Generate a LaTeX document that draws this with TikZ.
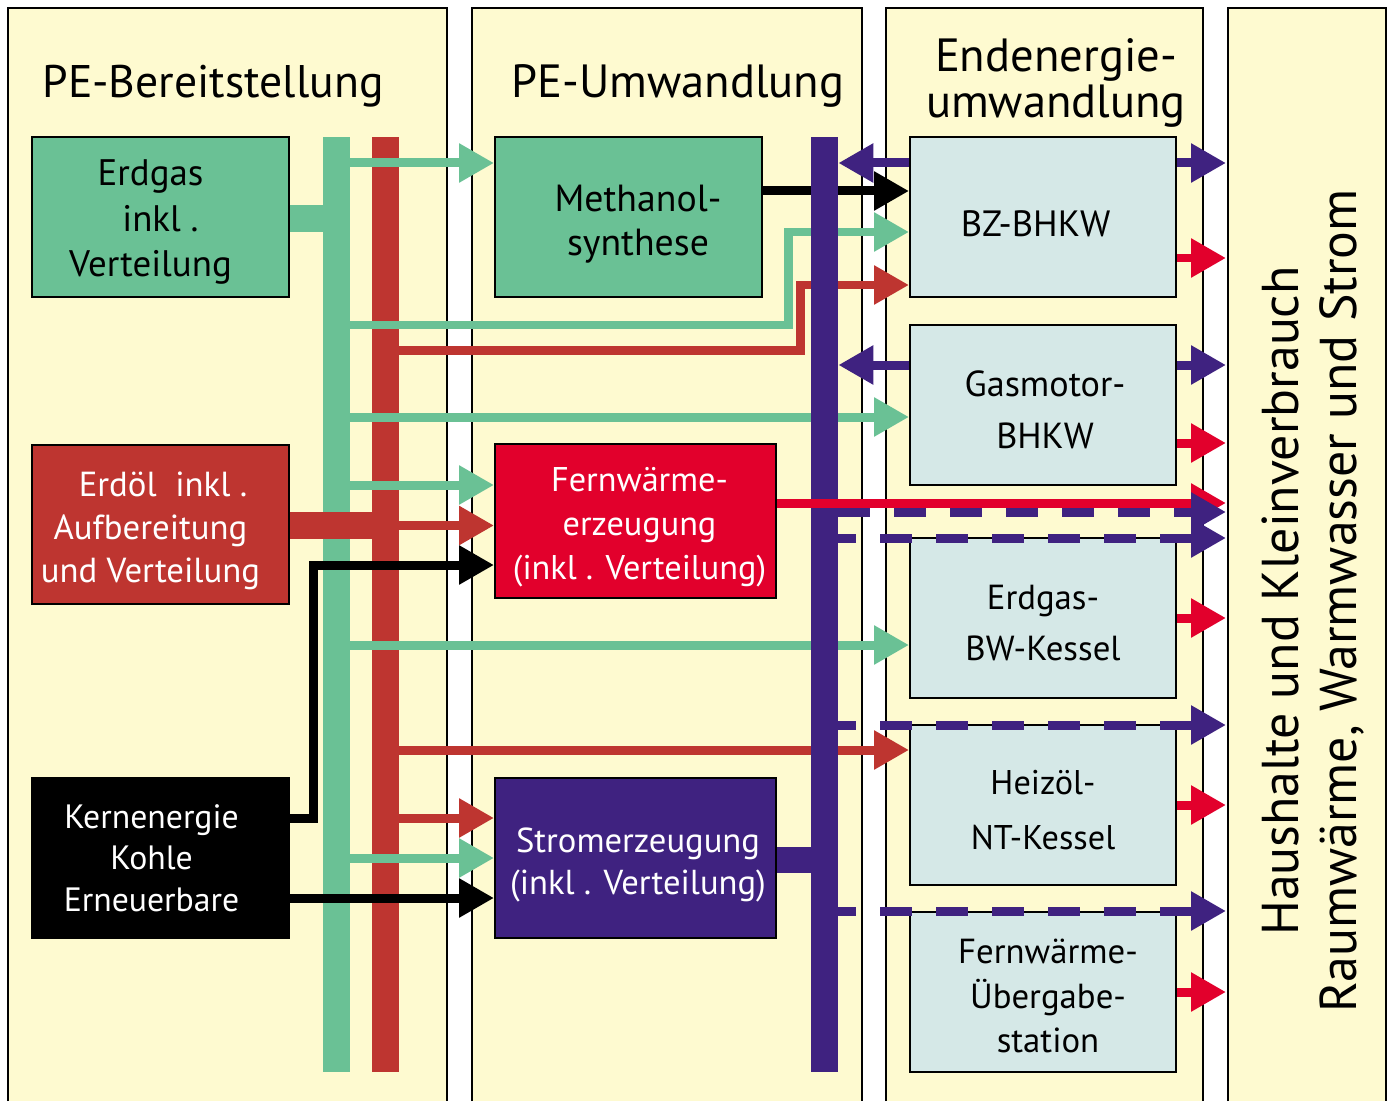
\documentclass[tikz,border=0pt]{standalone}
\usepackage{fontspec}
\setmainfont{PT Sans}
\usepackage{xcolor}
\usetikzlibrary{positioning,arrows.meta}

\definecolor{panelyellow}{HTML}{FEFAD0}
\definecolor{gasgreen}{HTML}{6AC195}
\definecolor{oilred}{HTML}{BE3530}
\definecolor{heatred}{HTML}{E2002C}
\definecolor{elpurple}{HTML}{3F2280}
\definecolor{endgrey}{HTML}{D5E8E7}

\begin{document}
\begin{tikzpicture}[x=0.02cm, y=-0.02cm,
  panel/.style={draw=black, line width=0.04cm, fill=panelyellow},
  ttl/.style={font=\fontsize{26.5}{26.5}\selectfont, align=center, inner sep=0pt},
  box/.style={draw=black, line width=0.04cm, inner sep=0pt, minimum height=3.2cm},
  srcbox/.style={box, minimum width=5.14cm},
  midbox/.style={box, minimum width=5.62cm},
  endbox/.style={box, fill=endgrey, minimum width=5.32cm},
  txt/.style={align=center, inner sep=0pt},
  bar/.style={inner sep=0pt, minimum width=0.54cm, minimum height=18.7cm},
  stub/.style={line width=0.53cm},
  flow/.style={line width=0.18cm, -{Triangle[length=0.7cm,width=0.74cm]}},
  dflow/.style={flow, elpurple, dash pattern=on 0.64cm off 0.48cm},
  dflowb/.style={dflow, dash phase=0.28cm}]

\useasboundingbox (0,0) rectangle (1391,1101);

% columns
\filldraw[panel] (8,1101) |- (447,8) -- (447,1101);
\filldraw[panel] (472,1101) |- (862,8) -- (862,1101);
\filldraw[panel] (886,1101) |- (1203,8) -- (1203,1101);
\filldraw[panel] (1228,1101) |- (1386,8) -- (1386,1101);
\coordinate (hh) at (1226,0);

\node[ttl, font=\fontsize{26}{26}\selectfont] (t1) at (213,86) {PE-Bereitstellung};
\node[ttl] (t2) at (678,86) {PE-Umwandlung};
\node[ttl] (t3) at (1056,83) {Endenergie-\\umwandlung};
\node[ttl, rotate=90, font=\fontsize{29.5}{32.5}\selectfont] (t4) at (1313,601)
  {Haushalte und Kleinverbrauch\\Raumwärme, Warmwasser und Strom};

% sammelschienen
\node[bar, fill=oilred] (rbar) at (385.5,604.5) {};
\node[bar, fill=gasgreen] (gbar) at (336.5,604.5) {};

% primaerenergie
\node[srcbox, fill=gasgreen] (gas) at (160.5,217) {};
\node[txt, font=\fontsize{21}{26}\selectfont] (gas-t)
  at ([xshift=-0.2cm, yshift=-0.1cm]gas.center)
  {Erdgas\\\hspace*{0.4cm}inkl .\\Verteilung};
\node[srcbox, fill=oilred] (oil) at (160.5,524.5) {};
\node[txt, text=white, font=\fontsize{19.8}{24.5}\selectfont] (oil-t)
  at ([xshift=-0.2cm, yshift=-0.12cm]oil.center)
  {\hspace*{0.5cm}Erdöl~~inkl .\\Aufbereitung\\und Verteilung};
\node[srcbox, fill=black] (kern) at (160.5,858) {};
\node[txt, text=white, font=\fontsize{19.2}{23.5}\selectfont] (kern-t)
  at ([xshift=-0.18cm]kern.center) {Kernenergie\\Kohle\\Erneuerbare};

\draw[stub, gasgreen] (gas.east |- 0,218.5) -- (gbar.west |- 0,218.5);
\draw[stub, oilred] (oil.east |- 0,525.5) -- (rbar.east |- 0,525.5);

% umwandlung
\node[box, fill=gasgreen, minimum width=5.34cm] (meth) at (628.5,217) {};
\node[txt, font=\fontsize{21.5}{25}\selectfont] (meth-t)
  at ([xshift=0.19cm, yshift=-0.14cm]meth.center) {Methanol-\\synthese};
\node[midbox, fill=heatred, minimum height=3.08cm] (fw) at (635.5,521) {};
\node[txt, text=white, font=\fontsize{19.5}{25}\selectfont] (fw-t)
  at ([xshift=0.08cm, yshift=-0.12cm]fw.center)
  {Fernwärme-\\erzeugung\\(inkl . Verteilung)};
\node[midbox, fill=elpurple] (strom) at (635.5,858) {};
\node[txt, text=white, font=\fontsize{19.7}{23.5}\selectfont] (strom-t)
  at ([xshift=0.05cm, yshift=-0.14cm]strom.center)
  {Stromerzeugung\\(inkl . Verteilung)};

% endenergie
\node[endbox] (bz) at (1043,217) {};
\node[txt, font=\fontsize{20.8}{26}\selectfont] (bz-t)
  at ([xshift=-0.15cm, yshift=-0.14cm]bz.center) {BZ-BHKW};
\node[endbox] (gm) at (1043,405) {};
\node[txt, font=\fontsize{20.6}{29.5}\selectfont] (gm-t)
  at ([xshift=0.04cm, yshift=-0.1cm]gm.center) {Gasmotor-\\BHKW};
\node[endbox] (ebw) at (1043,618) {};
\node[txt, font=\fontsize{19.8}{29}\selectfont] (ebw-t)
  at ([yshift=-0.1cm]ebw.center) {Erdgas-\\BW-Kessel};
\node[endbox] (hnt) at (1043,805) {};
\node[txt, font=\fontsize{19.5}{31}\selectfont] (hnt-t)
  at ([yshift=-0.1cm]hnt.center) {Heizöl-\\NT-Kessel};
\node[endbox] (fwu) at (1043,992) {};
\node[txt, font=\fontsize{19.8}{25.5}\selectfont] (fwu-t)
  at ([xshift=0.1cm, yshift=-0.08cm]fwu.center) {Fernwärme-\\Übergabe-\\station};

% bends
\coordinate (gbend) at (788,232);
\coordinate (rbend) at (800,285);
\coordinate (kbend) at (313,565);

% erdgas
\draw[flow, gasgreen] (gbar.east |- 0,163) -- (meth.west |- 0,163);
\draw[flow, gasgreen] (gbar.east |- 0,325) -| (gbend) -- (bz.west |- gbend);
\draw[flow, gasgreen] (gbar.east |- 0,417) -- (gm.west |- 0,417);
\draw[flow, gasgreen] (gbar.east |- 0,485) -- (fw.west |- 0,485);
\draw[flow, gasgreen] (gbar.east |- 0,645) -- (ebw.west |- 0,645);
\draw[flow, gasgreen] (gbar.east |- 0,858) -- (strom.west |- 0,858);
% erdoel
\draw[flow, oilred] (rbar.east |- 0,350) -| (rbend) -- (bz.west |- rbend);
\draw[flow, oilred] (rbar.east |- 0,525.5) -- (fw.west |- 0,525.5);
\draw[flow, oilred] (rbar.east |- 0,750) -- (hnt.west |- 0,750);
\draw[flow, oilred] (rbar.east |- 0,818) -- (strom.west |- 0,818);
% kernenergie usw.
\draw[flow, black] (kern.east |- 0,818) -| (kbend) -- (fw.west |- kbend);
\draw[flow, black] (kern.east |- 0,898) -- (strom.west |- 0,898);
\draw[flow, black] (meth.east |- 0,191) -- (bz.west |- 0,191);

% strom
\node[bar, fill=elpurple] (pbar) at (824.5,604.5) {};
\draw[stub, elpurple] (strom.east |- 0,860) -- (pbar.west |- 0,860);
\draw[flow, elpurple] (bz.west |- 0,163) -- (pbar.east |- 0,163);
\draw[flow, elpurple] (gm.west |- 0,365) -- (pbar.east |- 0,365);

% fernwaerme
\draw[flow, heatred] (fw.east |- 0,503) -- (hh |- 0,503);
\draw[dflow] (pbar.east |- 0,512) -- (hh |- 0,512);
\draw[dflowb] (pbar.east |- 0,538) -- (hh |- 0,538);
\draw[dflowb] (pbar.east |- 0,725) -- (hh |- 0,725);
\draw[dflowb] (pbar.east |- 0,911) -- (hh |- 0,911);

% an haushalte
\draw[flow, elpurple] (bz.east |- 0,163) -- (hh |- 0,163);
\draw[flow, heatred] (bz.east |- 0,258) -- (hh |- 0,258);
\draw[flow, elpurple] (gm.east |- 0,365) -- (hh |- 0,365);
\draw[flow, heatred] (gm.east |- 0,443) -- (hh |- 0,443);
\draw[flow, heatred] (ebw.east) -- (hh |- ebw);
\draw[flow, heatred] (hnt.east) -- (hh |- hnt);
\draw[flow, heatred] (fwu.east) -- (hh |- fwu);
\end{tikzpicture}
\end{document}
